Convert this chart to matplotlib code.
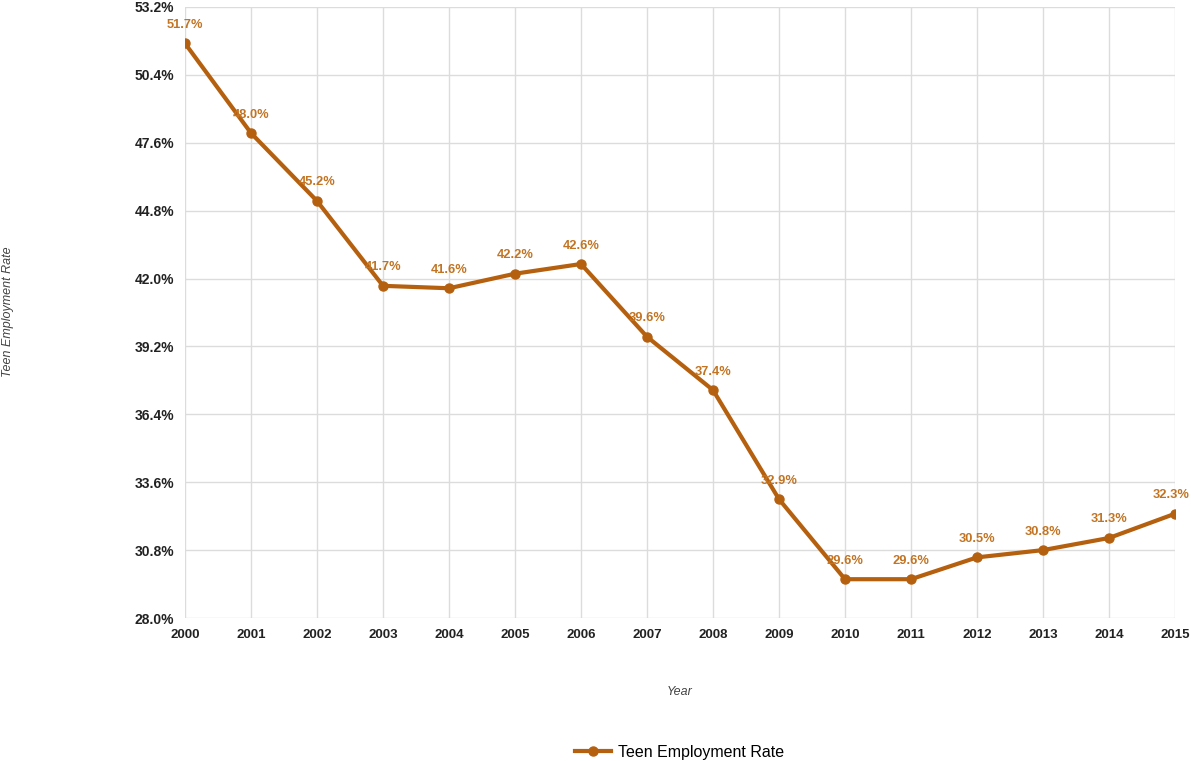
import numpy as np
from matplotlib import pyplot as plt

years = [2000, 2001, 2002, 2003, 2004, 2005, 2006, 2007,
         2008, 2009, 2010, 2011, 2012, 2013, 2014, 2015]
rates = [51.7, 48.0, 45.2, 41.7, 41.6, 42.2, 42.6, 39.6,
         37.4, 32.9, 29.6, 29.6, 30.5, 30.8, 31.3, 32.3]
yticks = [28.0, 30.8, 33.6, 36.4, 39.2, 42.0, 44.8, 47.6, 50.4, 53.2]

plt.rcParams['font.family'] = ['Liberation Sans', 'DejaVu Sans']

linecol = '#b5600f'
labcol = '#c27422'

fig = plt.figure(figsize=(11.91, 7.61), dpi=100)
ax = fig.add_axes([185/1191, 1-618/761, (1175-185)/1191, (618-7)/761])

ax.plot(years, rates, color=linecol, lw=3, marker='o', ms=6.5,
        label='Teen Employment Rate', solid_joinstyle='round')
for i, (x, y) in enumerate(zip(years, rates)):
    dx = -3 if i == len(years) - 1 else 0  # keep last label inside the figure
    ax.annotate('%.1f%%' % y, (x, y), xytext=(dx, 9), textcoords='offset points',
                ha='center', va='bottom', fontsize=9.3, fontweight='bold', color=labcol,
                annotation_clip=False)

ax.set_xlim(2000, 2015)
ax.set_ylim(28.0, 53.2)
ax.set_xticks(years)
ax.set_xticklabels([str(y) for y in years], fontsize=9.5, fontweight='bold', color='#222222')
ax.set_yticks(yticks)
ax.set_yticklabels(['%.1f%%' % v for v in yticks], fontsize=10, fontweight='bold', color='#222222')
ax.tick_params(length=0, pad=8)
ax.grid(True, color='#dcdcdc', lw=1)
ax.set_axisbelow(True)
for s in ax.spines.values():
    s.set_visible(False)

fig.text(8/1191, 1-312/761, 'Teen Employment Rate', rotation=90, ha='center', va='center',
         fontsize=9, style='italic', color='#444444')
fig.text(680/1191, 1-692/761, 'Year', ha='center', va='center',
         fontsize=9, style='italic', color='#444444')

fig.legend(loc='center', bbox_to_anchor=(680/1191, 1-752/761), frameon=False,
           fontsize=11.5, handlelength=2.2, handletextpad=0.5)

fig.savefig('out.png', dpi=100)
